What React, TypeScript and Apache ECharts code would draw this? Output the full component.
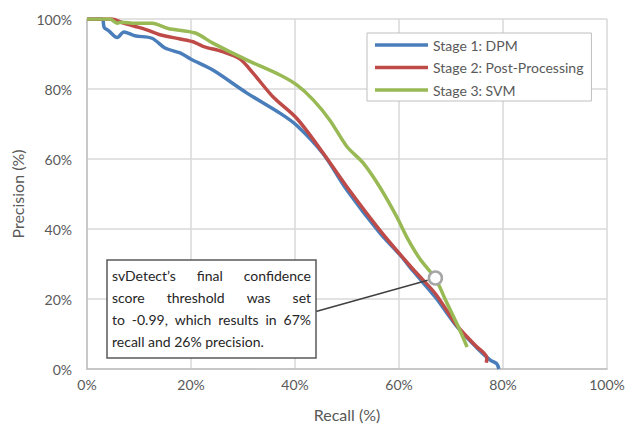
import React, { useEffect, useRef } from "react";
import * as echarts from "echarts";

const seriesNames = ["Stage 1: DPM", "Stage 2: Post-Processing", "Stage 3: SVM"];
const seriesColors = ["#4A7EBB", "#BE4B48", "#98B954"];

const stage1Recall = [0, 2.9, 3.3, 4.2, 5.8, 7.1, 9.2, 12.5, 15, 17.9, 20, 24.2, 30.7, 37.1, 40.4, 45.4, 50, 56.3, 60.2, 62.7, 67, 71.2, 75, 77.5, 78.8, 79.2];
const stage1Precision = [100, 100, 97.6, 96.6, 94.7, 96.3, 95.2, 94.5, 91.7, 90.3, 88.5, 85.4, 78.9, 73.1, 69.5, 61.5, 51.1, 38.9, 32.6, 28, 20.5, 12, 6, 2.6, 1.5, 0];

const stage2Recall = [0, 4.8, 6.7, 9, 11.5, 14, 17.9, 20.4, 22.3, 26.2, 29.4, 31.9, 35.8, 40.4, 45.4, 50, 56.3, 62.7, 67, 71.2, 75, 76.3, 76.9, 76.8];
const stage2Precision = [100, 100, 99, 98, 96.9, 95.5, 94.3, 93.5, 92.2, 90.6, 88.6, 84.6, 77.7, 71.5, 61.7, 52, 39.7, 28.5, 21.5, 12.3, 6.3, 4.6, 3.2, 1.8];

const stage3Recall = [0, 4.4, 5.8, 6.7, 9.2, 12.5, 15.6, 20.8, 24.2, 30.7, 37.1, 40.4, 43.5, 46.7, 50, 53.1, 56.3, 59.6, 61.5, 64, 67, 69.2, 71.7, 73.1];
const stage3Precision = [100, 100, 98.8, 99.1, 98.8, 98.8, 97.3, 96, 93.1, 88.3, 84, 81.1, 76.9, 71.1, 63.5, 58.9, 52, 43.4, 37.7, 31.5, 25.8, 18.9, 11.1, 6.3];

const thresholdPoint = [67, 26];

const noteLines = [
  "svDetect\u2019s final confidence",
  "score threshold was set",
  "to -0.99, which results in 67%",
  "recall and 26% precision.",
];

const FONT = "Lato";
const TEXT_COLOR = "#595959";

function pairs(xs: number[], ys: number[]) {
  return xs.map((x, i) => [x, ys[i]]);
}

export default function App() {
  const ref = useRef<HTMLDivElement>(null);
  useEffect(() => {
    if (!ref.current) return;
    const chart = echarts.init(ref.current, null, { renderer: "svg" });
    const data = [
      pairs(stage1Recall, stage1Precision),
      pairs(stage2Recall, stage2Precision),
      pairs(stage3Recall, stage3Precision),
    ];
    const axisCommon = {
      type: "value",
      min: 0,
      max: 100,
      interval: 20,
      axisLine: { show: true, lineStyle: { color: "#BFBFBF", width: 1.5 } },
      axisTick: { show: false },
      splitLine: { show: true, lineStyle: { color: "#D9D9D9", width: 1.5 } },
      nameLocation: "middle",
      nameTextStyle: { fontFamily: FONT, fontSize: 16, color: TEXT_COLOR },
    };
    chart.setOption({
      animation: false,
      backgroundColor: "#ffffff",
      grid: { left: 87, right: 29, top: 19, bottom: 58, containLabel: false },
      xAxis: {
        ...axisCommon,
        name: "Recall (%)",
        nameGap: 37,
        axisLabel: { formatter: "{value}%", fontFamily: FONT, fontSize: 14, color: TEXT_COLOR, margin: 8 },
      },
      yAxis: {
        ...axisCommon,
        name: "Precision (%)",
        nameGap: 50,
        axisLabel: { formatter: "{value}%", fontFamily: FONT, fontSize: 14, color: TEXT_COLOR, margin: 15 },
      },
      legend: {
        data: seriesNames.map((name) => ({ name, icon: "path://M0,0 L53,0 L53,3.5 L0,3.5 Z" })),
        symbolKeepAspect: true,
        orient: "vertical",
        left: 367,
        top: 33,
        padding: [5, 8, 4, 8],
        itemGap: 8.5,
        itemWidth: 53,
        itemHeight: 14,
        backgroundColor: "#ffffff",
        borderColor: "#BFBFBF",
        borderWidth: 1,
        textStyle: { fontFamily: FONT, fontSize: 14, color: TEXT_COLOR },
        z: 20,
      },
      series: [
        ...seriesNames.map((name, i) => ({
          name,
          type: "line",
          data: data[i],
          symbol: "none",
          smooth: 0.3,
          lineStyle: { width: 3.5, color: seriesColors[i] },
          itemStyle: { color: seriesColors[i] },
          z: 2 + i,
        })),
        {
          name: "threshold",
          type: "scatter",
          data: [thresholdPoint],
          symbol: "circle",
          symbolSize: 13,
          itemStyle: { color: "#ffffff", borderColor: "#A6A6A6", borderWidth: 2.5, opacity: 1 },
          z: 10,
        },
      ],
    });

    // annotation box with justified text
    const boxX = 107, boxY = 260, boxW = 209, boxH = 98;
    const textX = 112, textW = 199, lineY0 = 275, lineStep = 22;
    const canvas = document.createElement("canvas");
    const ctx = canvas.getContext("2d");
    const fontSpec = `14px ${FONT}`;
    if (ctx) ctx.font = fontSpec;
    const measure = (s: string) => (ctx ? ctx.measureText(s).width : s.length * 6.5);
    const texts: any[] = [];
    noteLines.forEach((line, li) => {
      const y = lineY0 + li * lineStep;
      const isLast = li === noteLines.length - 1;
      const words = line.split(" ");
      if (isLast || words.length < 2) {
        texts.push({ type: "text", x: textX, y, z: 101, style: { text: line, font: fontSpec, fill: "#262626", textVerticalAlign: "middle", textAlign: "left" } });
        return;
      }
      const widths = words.map(measure);
      const total = widths.reduce((a, b) => a + b, 0);
      const gap = (textW - total) / (words.length - 1);
      let cx = textX;
      words.forEach((w, wi) => {
        texts.push({ type: "text", x: cx, y, z: 101, style: { text: w, font: fontSpec, fill: "#262626", textVerticalAlign: "middle", textAlign: "left" } });
        cx += widths[wi] + gap;
      });
    });

    const pt = chart.convertToPixel({ gridIndex: 0 }, thresholdPoint) as number[];
    const sx = boxX + boxW, sy = 311.5;
    const dx = pt[0] - sx, dy = pt[1] - sy;
    const len = Math.sqrt(dx * dx + dy * dy) || 1;
    const ex = pt[0] - (dx / len) * 8, ey = pt[1] - (dy / len) * 8;

    chart.setOption({
      graphic: [
        { type: "line", z: 99, shape: { x1: sx, y1: sy, x2: ex, y2: ey }, style: { stroke: "#404040", lineWidth: 1.5 } },
        { type: "rect", z: 100, shape: { x: boxX, y: boxY, width: boxW, height: boxH }, style: { fill: "#ffffff", stroke: "#595959", lineWidth: 1.5 } },
        ...texts,
      ],
    });

    return () => chart.dispose();
  }, []);
  return <div ref={ref} style={{ position: "fixed", left: 0, top: 0, width: 636, height: 427, background: "#fff" }} />;
}
